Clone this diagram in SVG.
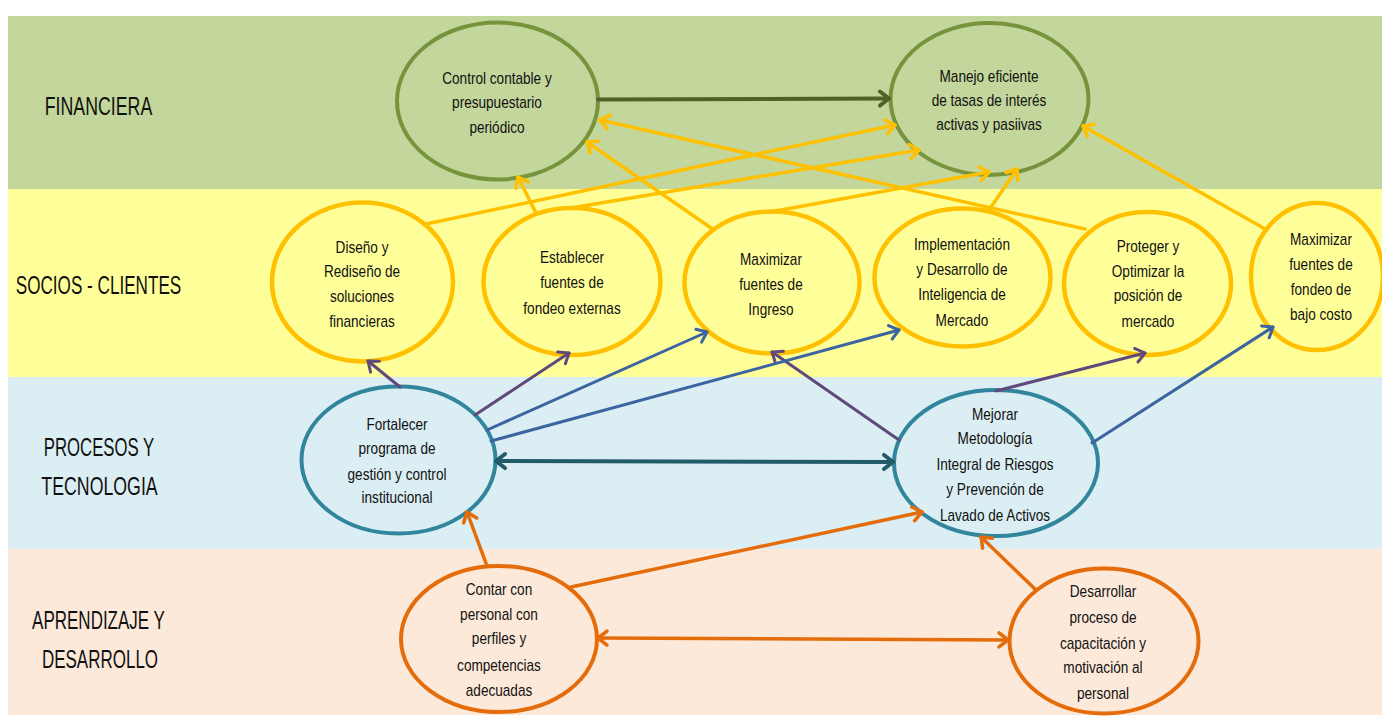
<svg xmlns="http://www.w3.org/2000/svg" width="1382" height="716" viewBox="0 0 1382 716">
<defs>
<style>
.lbl{font-family:"Liberation Sans",Arial,sans-serif;font-size:25px;fill:#111;text-anchor:middle}
.nt{font-family:"Liberation Sans",Arial,sans-serif;font-size:16px;fill:#111;text-anchor:middle}
.c{fill:none;stroke-linecap:round}
.yl{stroke:#ffc000;stroke-width:3.5}
.pu{stroke:#604a7b;stroke-width:3}
.bl{stroke:#3c64a0;stroke-width:3}
.tl{stroke:#245b69;stroke-width:4}
.dg{stroke:#4f6228;stroke-width:4}
.or{stroke:#e46c0a;stroke-width:3.5}
.eg{fill:#c3d69b;stroke:#77933c;stroke-width:4}
.ey{fill:#ffff99;stroke:#ffc000;stroke-width:4.5}
.eb{fill:#dbeef3;stroke:#31859c;stroke-width:4}
.eo{fill:#fde9d9;stroke:#e46c0a;stroke-width:4}
</style>
<marker id="mY" markerUnits="userSpaceOnUse" viewBox="-12 -10 16 20" refX="0" refY="0" markerWidth="16" markerHeight="20" orient="auto-start-reverse" overflow="visible"><path d="M-9,-7 L0,0 L-9,7" fill="none" stroke="#ffc000" stroke-width="3.5" stroke-linecap="round" stroke-linejoin="round"/></marker>
<marker id="mP" markerUnits="userSpaceOnUse" viewBox="-12 -10 16 20" refX="0" refY="0" markerWidth="16" markerHeight="20" orient="auto-start-reverse" overflow="visible"><path d="M-9,-7 L0,0 L-9,7" fill="none" stroke="#604a7b" stroke-width="3" stroke-linecap="round" stroke-linejoin="round"/></marker>
<marker id="mB" markerUnits="userSpaceOnUse" viewBox="-12 -10 16 20" refX="0" refY="0" markerWidth="16" markerHeight="20" orient="auto-start-reverse" overflow="visible"><path d="M-9,-7 L0,0 L-9,7" fill="none" stroke="#3c64a0" stroke-width="3" stroke-linecap="round" stroke-linejoin="round"/></marker>
<marker id="mT" markerUnits="userSpaceOnUse" viewBox="-12 -10 16 20" refX="0" refY="0" markerWidth="16" markerHeight="20" orient="auto-start-reverse" overflow="visible"><path d="M-9,-7 L0,0 L-9,7" fill="none" stroke="#245b69" stroke-width="4" stroke-linecap="round" stroke-linejoin="round"/></marker>
<marker id="mG" markerUnits="userSpaceOnUse" viewBox="-12 -10 16 20" refX="0" refY="0" markerWidth="16" markerHeight="20" orient="auto-start-reverse" overflow="visible"><path d="M-9,-7 L0,0 L-9,7" fill="none" stroke="#4f6228" stroke-width="4" stroke-linecap="round" stroke-linejoin="round"/></marker>
<marker id="mO" markerUnits="userSpaceOnUse" viewBox="-12 -10 16 20" refX="0" refY="0" markerWidth="16" markerHeight="20" orient="auto-start-reverse" overflow="visible"><path d="M-9,-7 L0,0 L-9,7" fill="none" stroke="#e46c0a" stroke-width="3.5" stroke-linecap="round" stroke-linejoin="round"/></marker>
</defs>
<rect width="1382" height="716" fill="#ffffff"/>
<g id="bands">
<rect x="8" y="16" width="1374" height="173" fill="#c3d69b"/>
<rect x="8" y="189" width="1374" height="188" fill="#ffff99"/>
<rect x="8" y="377" width="1374" height="172" fill="#dbeef3"/>
<rect x="8" y="549" width="1374" height="166" fill="#fde9d9"/>
</g>
<g id="labels">
<text class="lbl" transform="translate(98.5 115) scale(0.71 1)">FINANCIERA</text>
<text class="lbl" transform="translate(98.5 294) scale(0.685 1)">SOCIOS - CLIENTES</text>
<text class="lbl" transform="translate(99 456) scale(0.67 1)">PROCESOS Y</text>
<text class="lbl" transform="translate(99.5 495) scale(0.71 1)">TECNOLOGIA</text>
<text class="lbl" transform="translate(98.5 629) scale(0.68 1)">APRENDIZAJE Y</text>
<text class="lbl" transform="translate(100 668) scale(0.68 1)">DESARROLLO</text>
</g>
<g id="n1"><ellipse class="eg" cx="497.5" cy="101" rx="100.5" ry="78.5"/>
<text class="nt" transform="translate(497 0) scale(0.85 1)"><tspan x="0" y="84">Control contable y</tspan><tspan x="0" y="108">presupuestario</tspan><tspan x="0" y="133">periódico</tspan></text></g>
<g id="n2"><ellipse class="eg" cx="989.5" cy="99" rx="99" ry="76"/>
<text class="nt" transform="translate(989 0) scale(0.85 1)"><tspan x="0" y="82">Manejo eficiente</tspan><tspan x="0" y="106">de tasas de interés</tspan><tspan x="0" y="130">activas y pasiivas</tspan></text></g>
<g id="n3"><ellipse class="ey" cx="362.5" cy="282" rx="90.5" ry="79.5"/>
<text class="nt" transform="translate(362 0) scale(0.85 1)"><tspan x="0" y="253">Diseño y</tspan><tspan x="0" y="277">Rediseño de</tspan><tspan x="0" y="302">soluciones</tspan><tspan x="0" y="327">financieras</tspan></text></g>
<g id="n4"><ellipse class="ey" cx="572" cy="281.5" rx="88.5" ry="73.5"/>
<text class="nt" transform="translate(572 0) scale(0.85 1)"><tspan x="0" y="263">Establecer</tspan><tspan x="0" y="288">fuentes de</tspan><tspan x="0" y="314">fondeo externas</tspan></text></g>
<g id="n5"><ellipse class="ey" cx="772" cy="282.5" rx="87.5" ry="71"/>
<text class="nt" transform="translate(771 0) scale(0.85 1)"><tspan x="0" y="265">Maximizar</tspan><tspan x="0" y="290">fuentes de</tspan><tspan x="0" y="315">Ingreso</tspan></text></g>
<g id="n6"><ellipse class="ey" cx="962.5" cy="277.5" rx="88" ry="69"/>
<text class="nt" transform="translate(962 0) scale(0.85 1)"><tspan x="0" y="250">Implementación</tspan><tspan x="0" y="275">y Desarrollo de</tspan><tspan x="0" y="300">Inteligencia de</tspan><tspan x="0" y="326">Mercado</tspan></text></g>
<g id="n7"><ellipse class="ey" cx="1147.5" cy="283.5" rx="83.5" ry="71.5"/>
<text class="nt" transform="translate(1148 0) scale(0.85 1)"><tspan x="0" y="252">Proteger y</tspan><tspan x="0" y="277">Optimizar la</tspan><tspan x="0" y="301">posición de</tspan><tspan x="0" y="327">mercado</tspan></text></g>
<g id="n8"><ellipse class="ey" cx="1317" cy="276.5" rx="66" ry="73.5"/>
<text class="nt" transform="translate(1321 0) scale(0.85 1)"><tspan x="0" y="245">Maximizar</tspan><tspan x="0" y="270">fuentes de</tspan><tspan x="0" y="295">fondeo de</tspan><tspan x="0" y="320">bajo costo</tspan></text></g>
<g id="n9"><ellipse class="eb" cx="398.5" cy="460" rx="97" ry="73.5"/>
<text class="nt" transform="translate(397 0) scale(0.85 1)"><tspan x="0" y="430">Fortalecer</tspan><tspan x="0" y="454">programa de</tspan><tspan x="0" y="480">gestión y control</tspan><tspan x="0" y="503">institucional</tspan></text></g>
<g id="n10"><ellipse class="eb" cx="996" cy="463" rx="102" ry="73"/>
<text class="nt" transform="translate(995 0) scale(0.85 1)"><tspan x="0" y="420">Mejorar</tspan><tspan x="0" y="444">Metodología</tspan><tspan x="0" y="470">Integral de Riesgos</tspan><tspan x="0" y="495">y Prevención de</tspan><tspan x="0" y="521">Lavado de Activos</tspan></text></g>
<g id="n11"><ellipse class="eo" cx="499" cy="639" rx="98" ry="73"/>
<text class="nt" transform="translate(499 0) scale(0.85 1)"><tspan x="0" y="595">Contar con</tspan><tspan x="0" y="620">personal con</tspan><tspan x="0" y="644">perfiles y</tspan><tspan x="0" y="671">competencias</tspan><tspan x="0" y="696">adecuadas</tspan></text></g>
<g id="n12"><ellipse class="eo" cx="1104" cy="641" rx="94.5" ry="72.5"/>
<text class="nt" transform="translate(1103 0) scale(0.85 1)"><tspan x="0" y="597">Desarrollar</tspan><tspan x="0" y="623">proceso de</tspan><tspan x="0" y="649">capacitación y</tspan><tspan x="0" y="673">motivación al</tspan><tspan x="0" y="699">personal</tspan></text></g>
<g id="connectors">
<path class="c dg" d="M598,99.5 L889,98.5" marker-end="url(#mG)"/>
<path class="c yl" d="M426,224 L895,125" marker-end="url(#mY)"/>
<path class="c yl" d="M571,208 L919,150" marker-end="url(#mY)"/>
<path class="c yl" d="M536,213 L518,177" marker-end="url(#mY)"/>
<path class="c yl" d="M714,230 L587,142" marker-end="url(#mY)"/>
<path class="c yl" d="M770,212 L989,172" marker-end="url(#mY)"/>
<path class="c yl" d="M989,210 L1017,169" marker-end="url(#mY)"/>
<path class="c yl" d="M1085,229 L600,120" marker-end="url(#mY)"/>
<path class="c yl" d="M1267,230 L1083,126" marker-end="url(#mY)"/>
<path class="c pu" d="M400,387 L368,361" marker-end="url(#mP)"/>
<path class="c pu" d="M475,415 L569,353" marker-end="url(#mP)"/>
<path class="c pu" d="M899,440 L772,352" marker-end="url(#mP)"/>
<path class="c pu" d="M996,391 L1145,353" marker-end="url(#mP)"/>
<path class="c bl" d="M487,430 L707,332" marker-end="url(#mB)"/>
<path class="c bl" d="M491,441 L899,330" marker-end="url(#mB)"/>
<path class="c bl" d="M1092,443 L1273,327" marker-end="url(#mB)"/>
<path class="c tl" d="M496,461 L893,462" marker-start="url(#mT)" marker-end="url(#mT)"/>
<path class="c or" d="M487,566 L467,512" marker-end="url(#mO)"/>
<path class="c or" d="M571,587 L922,512" marker-end="url(#mO)"/>
<path class="c or" d="M598,638 L1008,640" marker-start="url(#mO)" marker-end="url(#mO)"/>
<path class="c or" d="M1036,590 L981,537" marker-end="url(#mO)"/>
</g>
</svg>
